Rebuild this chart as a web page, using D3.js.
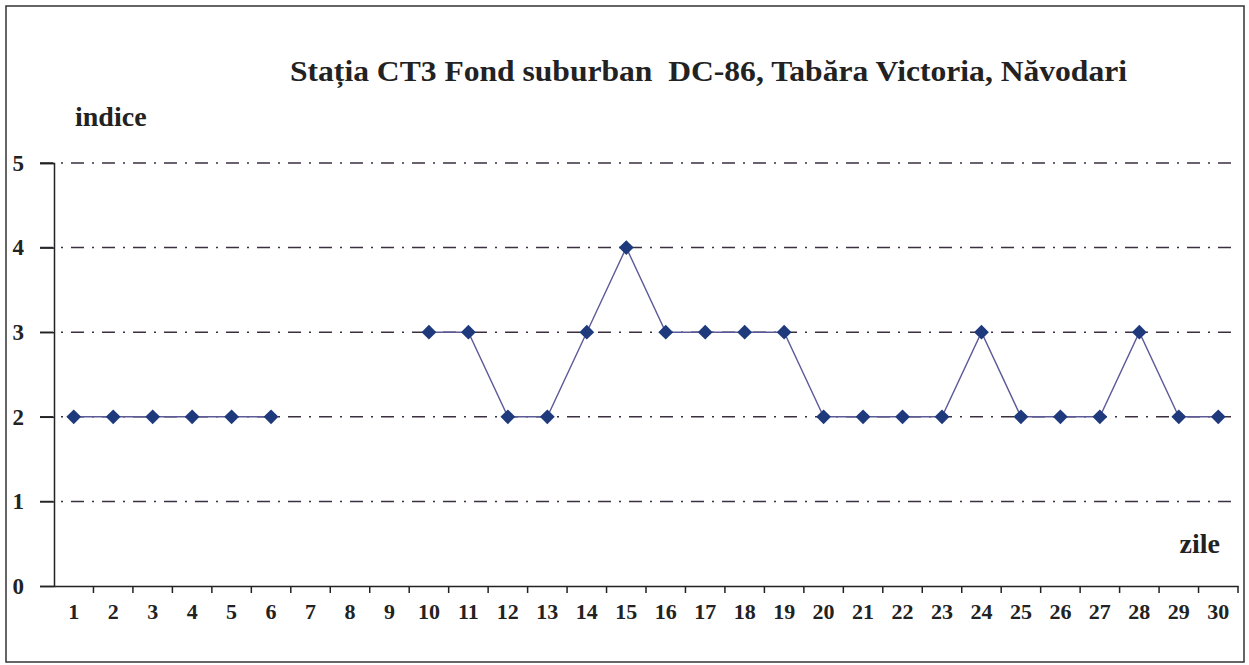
<!DOCTYPE html>
<html lang="ro">
<head>
<meta charset="utf-8">
<script src="https://cdn.jsdelivr.net/npm/d3@7"></script>
<style>
  body { margin: 0; background: #fff; }
  text { font-family: "Liberation Serif", "Times New Roman", serif; font-weight: bold; fill: #222; }
</style>
</head>
<body>
<script>
// data
var days = d3.range(1, 31);
var indice = [2, 2, 2, 2, 2, 2, null, null, null, 3, 3, 2, 2, 3, 4, 3, 3, 3, 3, 2, 2, 2, 2, 3, 2, 2, 2, 3, 2, 2];
var yTicks = [0, 1, 2, 3, 4, 5];
var titleText = "Stația CT3 Fond suburban  DC-86, Tabăra Victoria, Năvodari";

var w = 1249, h = 665;
var plotLeft = 54, plotRight = 1238, plotTop = 163, plotBottom = 586;

var svg = d3.select("body").append("svg")
  .attr("width", w)
  .attr("height", h);

// outer frame
svg.append("rect")
  .attr("x", 6).attr("y", 6)
  .attr("width", 1238).attr("height", 656)
  .attr("fill", "#fff")
  .attr("stroke", "#333")
  .attr("stroke-width", 1.5);

var x = d3.scaleBand().domain(days).range([plotLeft, plotRight]);
var y = d3.scaleLinear().domain([0, 5]).range([plotBottom, plotTop]);

// dash-dot gridlines
svg.append("g").selectAll("line")
  .data(yTicks.filter(function(d) { return d > 0; }))
  .enter().append("line")
  .attr("x1", 40).attr("x2", plotRight)
  .attr("y1", function(d) { return y(d); })
  .attr("y2", function(d) { return y(d); })
  .attr("stroke", "#3a3040")
  .attr("stroke-width", 1.5)
  .attr("stroke-dasharray", "13,8,2,8");

// y axis
var yAxis = svg.append("g")
  .attr("transform", "translate(" + plotLeft + ",0)")
  .call(d3.axisLeft(y).tickValues(yTicks).tickSize(14).tickPadding(16).tickFormat(d3.format("d")));
yAxis.select(".domain").attr("stroke", "#222").attr("stroke-width", 1.5);
yAxis.selectAll(".tick line").attr("stroke", "#222").attr("stroke-width", 1.5);
yAxis.selectAll("text").style("font-size", "23px").attr("fill", "#222");

// x axis: labels centred in bands, ticks at band edges
var xAxis = svg.append("g")
  .attr("transform", "translate(0," + plotBottom + ")")
  .call(d3.axisBottom(x).tickSize(0).tickPadding(17));
xAxis.select(".domain").attr("stroke", "#222").attr("stroke-width", 1.5);
xAxis.selectAll("text").style("font-size", "22px").attr("fill", "#222");

svg.append("g").selectAll("line")
  .data(days)
  .enter().append("line")
  .attr("x1", function(d) { return x(d) + x.bandwidth(); })
  .attr("x2", function(d) { return x(d) + x.bandwidth(); })
  .attr("y1", plotBottom).attr("y2", plotBottom + 7)
  .attr("stroke", "#222")
  .attr("stroke-width", 1.5);

// series line
var pts = days.map(function(d, i) { return { day: d, v: indice[i] }; });
var line = d3.line()
  .defined(function(d) { return d.v != null; })
  .x(function(d) { return x(d.day) + x.bandwidth() / 2; })
  .y(function(d) { return y(d.v); });

svg.append("path")
  .datum(pts)
  .attr("d", line)
  .attr("fill", "none")
  .attr("stroke", "#5d5a98")
  .attr("stroke-width", 1.4);

// diamond markers
svg.append("g").selectAll("path")
  .data(pts.filter(function(d) { return d.v != null; }))
  .enter().append("path")
  .attr("d", d3.symbol().type(d3.symbolDiamond2).size(140))
  .attr("transform", function(d) {
    return "translate(" + (x(d.day) + x.bandwidth() / 2) + "," + y(d.v) + ")";
  })
  .attr("fill", "#1f3a7c");

// texts
svg.append("text")
  .attr("x", 290).attr("y", 81)
  .attr("textLength", 837)
  .attr("lengthAdjust", "spacingAndGlyphs")
  .style("white-space", "pre")
  .style("font-size", "29px")
  .text(titleText);

svg.append("text")
  .attr("x", 75).attr("y", 126)
  .style("font-size", "28px")
  .text("indice");

svg.append("text")
  .attr("x", 1220).attr("y", 553)
  .attr("text-anchor", "end")
  .style("font-size", "28px")
  .text("zile");
</script>
</body>
</html>
